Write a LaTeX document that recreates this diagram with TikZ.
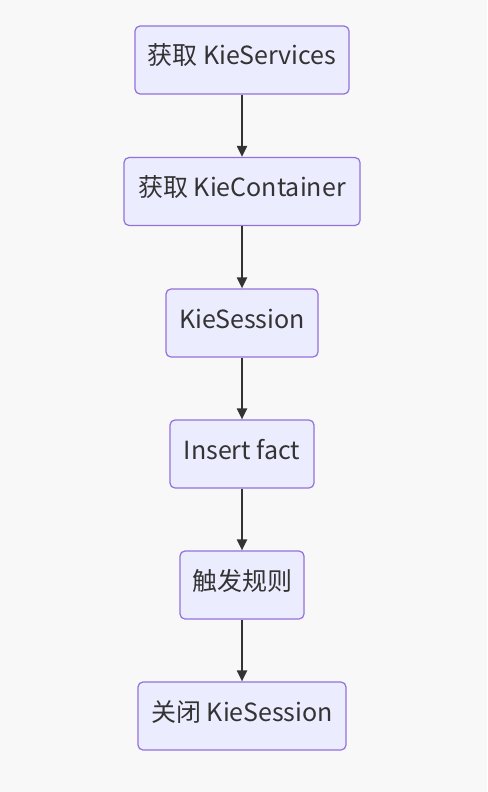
\documentclass[tikz,border=0pt]{standalone}
\usepackage{fontspec}
\setmainfont{Noto Sans CJK SC}
\usetikzlibrary{arrows.meta}
\definecolor{bg}{HTML}{F8F8F8}
\definecolor{boxfill}{HTML}{ECECFF}
\definecolor{boxline}{HTML}{9370DB}
\definecolor{txt}{HTML}{333333}
\tikzset{
  flowbox/.style={draw=boxline, fill=boxfill, line width=1.2pt, rounded corners=5pt,
    minimum height=68pt, inner sep=0pt, text=txt, font=\fontsize{25}{30}\selectfont,
    text height=19pt, text depth=9pt},
  flowarrow/.style={draw=txt, line width=2pt, -{Triangle[length=11pt,width=10pt]}}
}
\begin{document}
\begin{tikzpicture}[x=1pt,y=1pt]
\fill[bg] (0,0) rectangle (487,-792);
\useasboundingbox (0,0) rectangle (487,-792);
\node[flowbox, minimum width=214pt] (a) at (242,-60) {获取 KieServices};
\node[flowbox, minimum width=236pt] (b) at (242,-191.5) {获取 KieContainer};
\node[flowbox, minimum width=152pt] (c) at (242,-323) {KieSession};
\node[flowbox, minimum width=144pt] (d) at (242,-454) {Insert fact};
\node[flowbox, minimum width=124pt] (e) at (242,-585) {触发规则};
\node[flowbox, minimum width=208pt] (f) at (242,-716) {关闭 KieSession};
\draw[flowarrow] (a) -- (b);
\draw[flowarrow] (b) -- (c);
\draw[flowarrow] (c) -- (d);
\draw[flowarrow] (d) -- (e);
\draw[flowarrow] (e) -- (f);
\end{tikzpicture}
\end{document}
